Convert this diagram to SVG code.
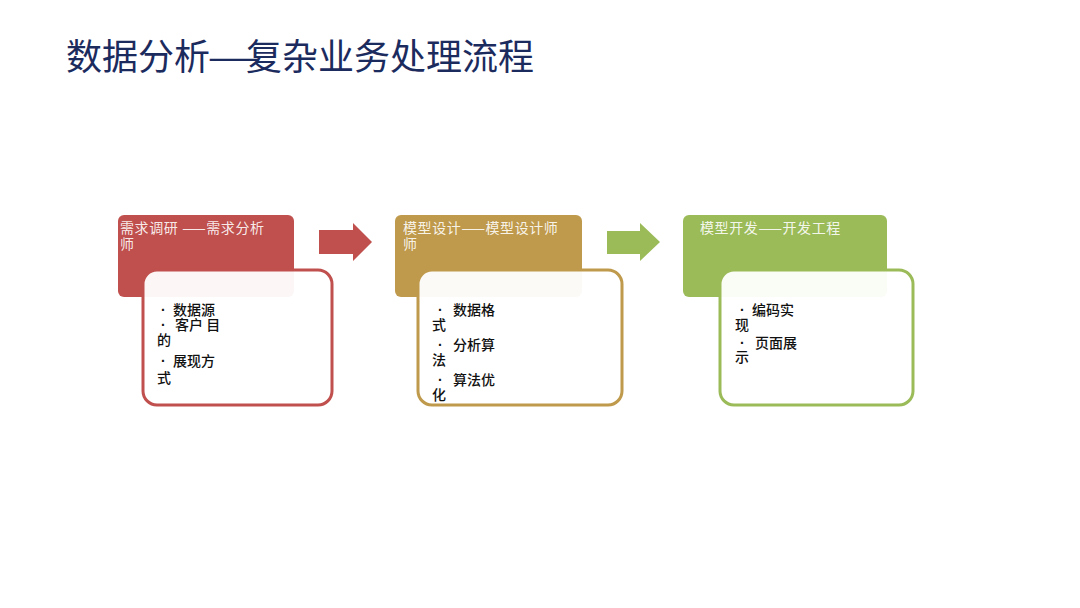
<svg xmlns="http://www.w3.org/2000/svg" width="1080" height="608" viewBox="0 0 1080 608">
  <style>
    .title { font-family: "Noto Sans CJK SC", "Noto Sans", sans-serif; font-size: 36px; fill: #1C2B5E; }
    .hdr { font-family: "Noto Sans CJK SC", "Noto Sans", sans-serif; font-size: 14px; letter-spacing: 0.6px; fill: #ffffff; fill-opacity: 0.9; }
    .body { font-family: "Noto Sans CJK SC", "Noto Sans", sans-serif; font-size: 14px; font-weight: 500; fill: #111111; }
    .dot { font-family: "Liberation Sans", sans-serif; font-weight: 700; }
    .card { fill: #ffffff; fill-opacity: 0.95; stroke-width: 3; }
  </style>
  <rect width="1080" height="608" fill="#ffffff"/>
  <g id="title">
    <text class="title" x="66" y="70">数据分析</text>
    <text class="title" transform="translate(207,70) scale(1.65,1)" x="0" y="0">—</text>
    <text class="title" x="246" y="70">复杂业务处理流程</text>
  </g>

  <g id="node-research">
    <rect x="118" y="215" width="176" height="82" rx="6" fill="#C0504D"/>
    <text class="hdr" x="120" y="233">需求调研 ——需求分析</text>
    <text class="hdr" x="120" y="249">师</text>
    <rect class="card" x="143" y="270" width="189" height="135" rx="14" stroke="#C0504D"/>
    <text class="body">
      <tspan class="dot" x="161" y="315">·</tspan><tspan x="173" y="315">数据源</tspan>
      <tspan class="dot" x="161" y="330">·</tspan><tspan x="175" y="330">客户 目</tspan>
      <tspan x="157" y="345">的</tspan>
      <tspan class="dot" x="161" y="366">·</tspan><tspan x="173" y="366">展现方</tspan>
      <tspan x="157" y="383">式</tspan>
    </text>
  </g>

  <g id="node-design">
    <rect x="395" y="215" width="187" height="82" rx="6" fill="#BF9A4C"/>
    <text class="hdr" x="403" y="233">模型设计——模型设计师</text>
    <text class="hdr" x="403" y="249">师</text>
    <rect class="card" x="418" y="270" width="204" height="135" rx="14" stroke="#BF9A4C"/>
    <text class="body">
      <tspan class="dot" x="438" y="315">·</tspan><tspan x="453" y="315">数据格</tspan>
      <tspan x="432" y="330">式</tspan>
      <tspan class="dot" x="438" y="350">·</tspan><tspan x="453" y="350">分析算</tspan>
      <tspan x="432" y="365">法</tspan>
      <tspan class="dot" x="438" y="385">·</tspan><tspan x="453" y="385">算法优</tspan>
      <tspan x="432" y="400">化</tspan>
    </text>
  </g>

  <g id="node-dev">
    <rect x="683" y="215" width="204" height="82" rx="6" fill="#9BBB59"/>
    <text class="hdr" x="700" y="233">模型开发——开发工程</text>
    <rect class="card" x="720" y="270" width="193" height="135" rx="14" stroke="#9BBB59"/>
    <text class="body">
      <tspan class="dot" x="740" y="315">·</tspan><tspan x="752" y="315">编码实</tspan>
      <tspan x="735" y="330">现</tspan>
      <tspan class="dot" x="740" y="348">·</tspan><tspan x="755" y="348">页面展</tspan>
      <tspan x="735" y="362">示</tspan>
    </text>
  </g>

  <g id="connectors">
    <polygon points="319,230 353,230 353,223 372,242 353,261 353,254 319,254" fill="#C0504D"/>
    <polygon points="607,231 640,231 640,223 660,242 640,261 640,254 607,254" fill="#9BBB59"/>
  </g>
</svg>
